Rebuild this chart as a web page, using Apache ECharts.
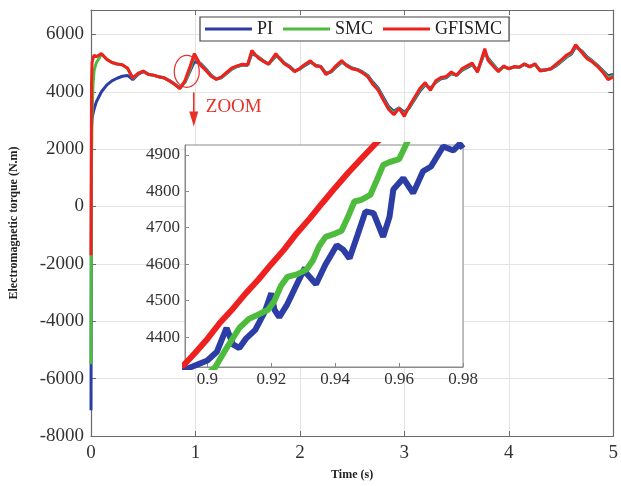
<!DOCTYPE html>
<html>
<head>
<meta charset="utf-8">
<title>Electromagnetic torque</title>
<script src="https://cdn.jsdelivr.net/npm/echarts@6/dist/echarts.min.js"></script>
<style>
	html, body { margin: 0; padding: 0; background: #fff; }
	#torque { width: 621px; height: 486px; }
</style>
</head>
<body>
<div id="torque"></div>
<script>
// main plot, time (s)
var timeMain = [
	0, 0.005, 0.01, 0.02, 0.03, 0.05, 0.1, 0.15, 0.2, 0.25,
	0.3, 0.35, 0.4, 0.45, 0.5, 0.55, 0.6, 0.65, 0.7, 0.75,
	0.8, 0.85, 0.9, 0.95, 0.99, 1.05, 1.1, 1.15, 1.2, 1.25,
	1.3, 1.35, 1.4, 1.45, 1.5, 1.54, 1.6, 1.65, 1.7, 1.77,
	1.8, 1.85, 1.9, 1.95, 2.0, 2.05, 2.1, 2.15, 2.2, 2.25,
	2.3, 2.35, 2.4, 2.45, 2.5, 2.55, 2.6, 2.65, 2.7, 2.75,
	2.8, 2.85, 2.9, 2.95, 3.0, 3.05, 3.1, 3.15, 3.2, 3.25,
	3.3, 3.35, 3.4, 3.45, 3.5, 3.55, 3.6, 3.65, 3.7, 3.77,
	3.8, 3.85, 3.9, 3.95, 4.0, 4.05, 4.1, 4.15, 4.2, 4.25,
	4.3, 4.35, 4.4, 4.45, 4.5, 4.55, 4.6, 4.64, 4.7, 4.75,
	4.8, 4.85, 4.9, 4.95, 5.0
];
var piMain = [
	-7100, 2800, 3050, 3250, 3400, 3640, 4000, 4230, 4380, 4470,
	4540, 4570, 4420, 4600, 4700, 4610, 4570, 4520, 4480, 4390,
	4270, 4140, 4330, 4740, 5050, 4980, 4790, 4580, 4450, 4490,
	4640, 4790, 4880, 4930, 4920, 5330, 5220, 5080, 4970, 5240,
	5200, 5010, 4890, 4730, 4790, 4920, 5030, 4930, 4880, 4650,
	4690, 4870, 5030, 4930, 4830, 4780, 4690, 4570, 4330, 4120,
	3800, 3480, 3320, 3440, 3280, 3450, 3740, 4030, 4240, 4120,
	4320, 4450, 4490, 4630, 4580, 4740, 4840, 4940, 4720, 5380,
	5180, 4960, 4740, 4870, 4810, 4860, 4860, 4950, 4880, 4950,
	4760, 4760, 4790, 4900, 5040, 5200, 5320, 5560, 5420, 5210,
	5080, 4920, 4740, 4560, 4600
];
var smcMain = [
	-5500, 1500, 3200, 4300, 4750, 5000, 5300, 5140, 5020, 4970,
	4930, 4820, 4470, 4630, 4720, 4600, 4580, 4520, 4490, 4380,
	4260, 4120, 4350, 4800, 5250, 4950, 4760, 4560, 4440, 4500,
	4660, 4810, 4890, 4950, 4930, 5390, 5200, 5070, 4960, 5290,
	5190, 4990, 4870, 4710, 4800, 4940, 5060, 4910, 4870, 4620,
	4700, 4890, 5060, 4910, 4810, 4770, 4670, 4540, 4280, 4080,
	3740, 3420, 3250, 3430, 3200, 3490, 3780, 4080, 4280, 4080,
	4350, 4480, 4510, 4660, 4570, 4770, 4870, 4970, 4700, 5440,
	5140, 4930, 4720, 4880, 4800, 4870, 4850, 4960, 4870, 4960,
	4740, 4760, 4800, 4920, 5070, 5230, 5350, 5600, 5390, 5180,
	5060, 4900, 4710, 4490, 4560
];
var gfismcMain = [
	-1700, 4300, 5000, 5180, 5280, 5220, 5330, 5130, 5020, 4970,
	4940, 4820, 4480, 4640, 4720, 4600, 4580, 4520, 4490, 4380,
	4260, 4110, 4390, 4900, 5330, 4920, 4745, 4540, 4430, 4520,
	4680, 4830, 4900, 4960, 4940, 5440, 5180, 5060, 4960, 5330,
	5180, 4980, 4860, 4700, 4820, 4960, 5080, 4900, 4870, 4600,
	4720, 4920, 5090, 4900, 4800, 4760, 4660, 4520, 4250, 4050,
	3700, 3380, 3200, 3420, 3140, 3520, 3820, 4120, 4320, 4050,
	4380, 4500, 4530, 4690, 4570, 4800, 4900, 5000, 4680, 5500,
	5100, 4900, 4700, 4900, 4800, 4880, 4850, 4980, 4860, 4980,
	4720, 4760, 4800, 4950, 5100, 5270, 5380, 5640, 5360, 5150,
	5035, 4880, 4680, 4420, 4520
];

// zoomed window 0.893 - 0.98 s
var piZoomT = [0.89, 0.895, 0.9, 0.903, 0.906, 0.908, 0.91, 0.912, 0.915, 0.918, 0.92, 0.921,
	0.9225, 0.925, 0.928, 0.9305, 0.931, 0.934, 0.937, 0.9405, 0.9425, 0.9445, 0.947, 0.9495,
	0.952, 0.955, 0.957, 0.9582, 0.9613, 0.9644, 0.9675, 0.97, 0.9738, 0.977, 0.979, 0.98];
var piZoom = [4300, 4318, 4336, 4360, 4425, 4380, 4370, 4395, 4420, 4470, 4520, 4475,
	4455, 4490, 4545, 4590, 4575, 4545, 4600, 4652, 4640, 4616, 4680, 4745,
	4740, 4675, 4730, 4805, 4836, 4795, 4855, 4868, 4923, 4912, 4930, 4918];
var smcZoomT = [0.898, 0.9025, 0.906, 0.91, 0.913, 0.916, 0.919, 0.921, 0.923, 0.925, 0.928,
	0.931, 0.933, 0.935, 0.937, 0.94, 0.942, 0.944, 0.946, 0.948, 0.951, 0.953, 0.955,
	0.957, 0.96, 0.962, 0.964];
var smcZoom = [4280, 4318, 4370, 4425, 4450, 4462, 4475, 4500, 4540, 4565, 4572,
	4585, 4610, 4650, 4675, 4684, 4692, 4730, 4772, 4776, 4790, 4830, 4872,
	4880, 4888, 4925, 4960];
var gfismcZoomT = [0.892, 0.896, 0.9, 0.904, 0.908, 0.912, 0.916, 0.92, 0.924, 0.928, 0.932,
	0.936, 0.94, 0.944, 0.948, 0.952, 0.956];
var gfismcZoom = [4318, 4355, 4395, 4440, 4478, 4520, 4558, 4600, 4640, 4685, 4725,
	4768, 4810, 4850, 4888, 4925, 4960];

var mainYTicks = [-8000, -6000, -4000, -2000, 0, 2000, 4000, 6000];
var zoomXTicks = [0.9, 0.92, 0.94, 0.96, 0.98];
var zoomYTicks = [4400, 4500, 4600, 4700, 4800, 4900];
var names = ['PI', 'SMC', 'GFISMC'];
var colors = ['#2c3ea6', '#4dbb3c', '#ef2020'];

var serif = 'Liberation Serif';

function pairs(t, v) {
	return t.map(function(x, i) {
		return [x, v[i]];
	});
}

var myChart = echarts.init(document.getElementById('torque'));

var zoomGrid = [];
zoomXTicks.forEach(function(v) { zoomGrid.push({ xAxis: v }); });
zoomYTicks.forEach(function(v) { zoomGrid.push({ yAxis: v }); });

option = {
	animation: false,
	backgroundColor: '#fff',
	textStyle: { fontFamily: serif },
	legend: {
		data: names,
		left: 200,
		top: 17,
		padding: [3, 7, 3, 5],
		itemGap: 10,
		itemWidth: 47,
		itemHeight: 3,
		icon: 'rect',
		borderColor: '#444',
		borderWidth: 1.2,
		backgroundColor: '#fff',
		textStyle: { fontFamily: serif, fontSize: 18, color: '#222' },
		z: 20
	},
	grid: [{
		left: 89, right: 3, top: 10, bottom: 50
	}, {
		left: 185, right: 158, top: 145, bottom: 119,
		show: true, backgroundColor: '#fff', borderColor: '#8a8a8a', borderWidth: 1,
		z: 10
	}],
	xAxis: [{
		type: 'value', gridIndex: 0, min: 0, max: 5, interval: 1,
		name: 'Time (s)', nameLocation: 'middle', nameGap: 33,
		nameTextStyle: { fontFamily: serif, fontSize: 12, fontWeight: 'bold', color: '#222' },
		axisLine: { onZero: false, lineStyle: { color: '#6a6a6a', width: 1.2 } },
		axisTick: { inside: true, length: 5, lineStyle: { color: '#6a6a6a' } },
		axisLabel: { fontSize: 19, color: '#333', margin: 8 },
		splitLine: { lineStyle: { color: '#e4e4e4' } }
	}, {
		type: 'value', gridIndex: 0, position: 'top', min: 0, max: 5, interval: 1,
		axisLine: { onZero: false, lineStyle: { color: '#6a6a6a', width: 1.2 } },
		axisTick: { inside: true, length: 5, lineStyle: { color: '#6a6a6a' } },
		axisLabel: { show: false },
		splitLine: { show: false }
	}, {
		type: 'value', gridIndex: 1, min: 0.893, max: 0.98,
		axisLine: { onZero: false, lineStyle: { color: '#8a8a8a' } },
		axisTick: { inside: true, length: 4, customValues: zoomXTicks, lineStyle: { color: '#8a8a8a' } },
		axisLabel: {
			fontSize: 17, color: '#333', margin: 4, customValues: zoomXTicks,
			formatter: function(v) { return String(v); }
		},
		splitLine: { show: false },
		z: 11
	}],
	yAxis: [{
		type: 'value', gridIndex: 0, min: -8000, max: 6850, interval: 2000,
		name: 'Electromagnetic torque (N.m)', nameLocation: 'middle', nameGap: 71,
		nameTextStyle: { fontFamily: serif, fontSize: 12, fontWeight: 'bold', color: '#222' },
		axisLine: { show: true, onZero: false, lineStyle: { color: '#6a6a6a', width: 1.2 } },
		axisTick: { show: true, inside: true, length: 5, lineStyle: { color: '#6a6a6a' } },
		axisLabel: {
			fontSize: 19, color: '#333', margin: 7,
			formatter: function(v) {
				return mainYTicks.indexOf(v) >= 0 ? String(v) : '';
			}
		},
		splitLine: { lineStyle: { color: '#e4e4e4' } }
	}, {
		type: 'value', gridIndex: 0, position: 'right', min: -8000, max: 6850, interval: 2000,
		axisLine: { show: true, onZero: false, lineStyle: { color: '#6a6a6a', width: 1.2 } },
		axisTick: { show: true, inside: true, length: 5, lineStyle: { color: '#6a6a6a' } },
		axisLabel: { show: false },
		splitLine: { show: false }
	}, {
		type: 'value', gridIndex: 1, min: 4318, max: 4927,
		axisLine: { show: true, onZero: false, lineStyle: { color: '#8a8a8a' } },
		axisTick: { show: true, inside: true, length: 4, customValues: zoomYTicks, lineStyle: { color: '#8a8a8a' } },
		axisLabel: {
			fontSize: 17, color: '#333', margin: 5, customValues: zoomYTicks,
			formatter: function(v) { return String(v); }
		},
		splitLine: { show: false },
		z: 11
	}],
	series: [{
		name: 'PI', type: 'line', symbol: 'none', z: 2,
		data: pairs(timeMain, piMain),
		lineStyle: { color: colors[0], width: 3 }, itemStyle: { color: colors[0] }
	}, {
		name: 'SMC', type: 'line', symbol: 'none', z: 2,
		data: pairs(timeMain, smcMain),
		lineStyle: { color: colors[1], width: 3 }, itemStyle: { color: colors[1] }
	}, {
		name: 'GFISMC', type: 'line', symbol: 'none', z: 2,
		data: pairs(timeMain, gfismcMain),
		lineStyle: { color: colors[2], width: 3 }, itemStyle: { color: colors[2] }
	}, {
		// gridlines of the zoom box
		type: 'line', xAxisIndex: 2, yAxisIndex: 2, data: [], z: 11, silent: true,
		markLine: {
			silent: true, symbol: 'none', animation: false,
			label: { show: false },
			lineStyle: { color: '#e4e4e4', type: 'solid', width: 1 },
			data: zoomGrid
		}
	}, {
		name: 'PI', type: 'line', symbol: 'none', xAxisIndex: 2, yAxisIndex: 2, z: 12,
		data: pairs(piZoomT, piZoom),
		lineStyle: { color: colors[0], width: 6 }, itemStyle: { color: colors[0] }
	}, {
		name: 'SMC', type: 'line', symbol: 'none', xAxisIndex: 2, yAxisIndex: 2, z: 12,
		data: pairs(smcZoomT, smcZoom),
		lineStyle: { color: colors[1], width: 6 }, itemStyle: { color: colors[1] }
	}, {
		name: 'GFISMC', type: 'line', symbol: 'none', xAxisIndex: 2, yAxisIndex: 2, z: 12,
		data: pairs(gfismcZoomT, gfismcZoom),
		lineStyle: { color: colors[2], width: 6 }, itemStyle: { color: colors[2] }
	}]
};

myChart.setOption(option);

// "ZOOM" marker: ellipse round the rise near t = 0.92 s
var c = myChart.convertToPixel({ xAxisIndex: 0, yAxisIndex: 0 }, [0.917, 4710]);
var red = '#e8302a';
myChart.setOption({
	graphic: [{
		type: 'ellipse', z: 30,
		shape: { cx: c[0], cy: c[1], rx: 12.5, ry: 16 },
		style: { fill: 'none', stroke: red, lineWidth: 1.2 }
	}, {
		type: 'line', z: 30,
		shape: { x1: c[0] + 7, y1: c[1] + 21, x2: c[0] + 7, y2: c[1] + 44 },
		style: { stroke: red, lineWidth: 1.6 }
	}, {
		type: 'polygon', z: 30,
		shape: { points: [[c[0] + 2.5, c[1] + 40], [c[0] + 11.5, c[1] + 40], [c[0] + 7, c[1] + 55]] },
		style: { fill: red }
	}, {
		type: 'text', z: 30,
		x: c[0] + 19, y: c[1] + 36,
		style: { text: 'ZOOM', fill: red, font: '19px "Liberation Serif"', textVerticalAlign: 'middle' }
	}]
});
</script>
</body>
</html>
